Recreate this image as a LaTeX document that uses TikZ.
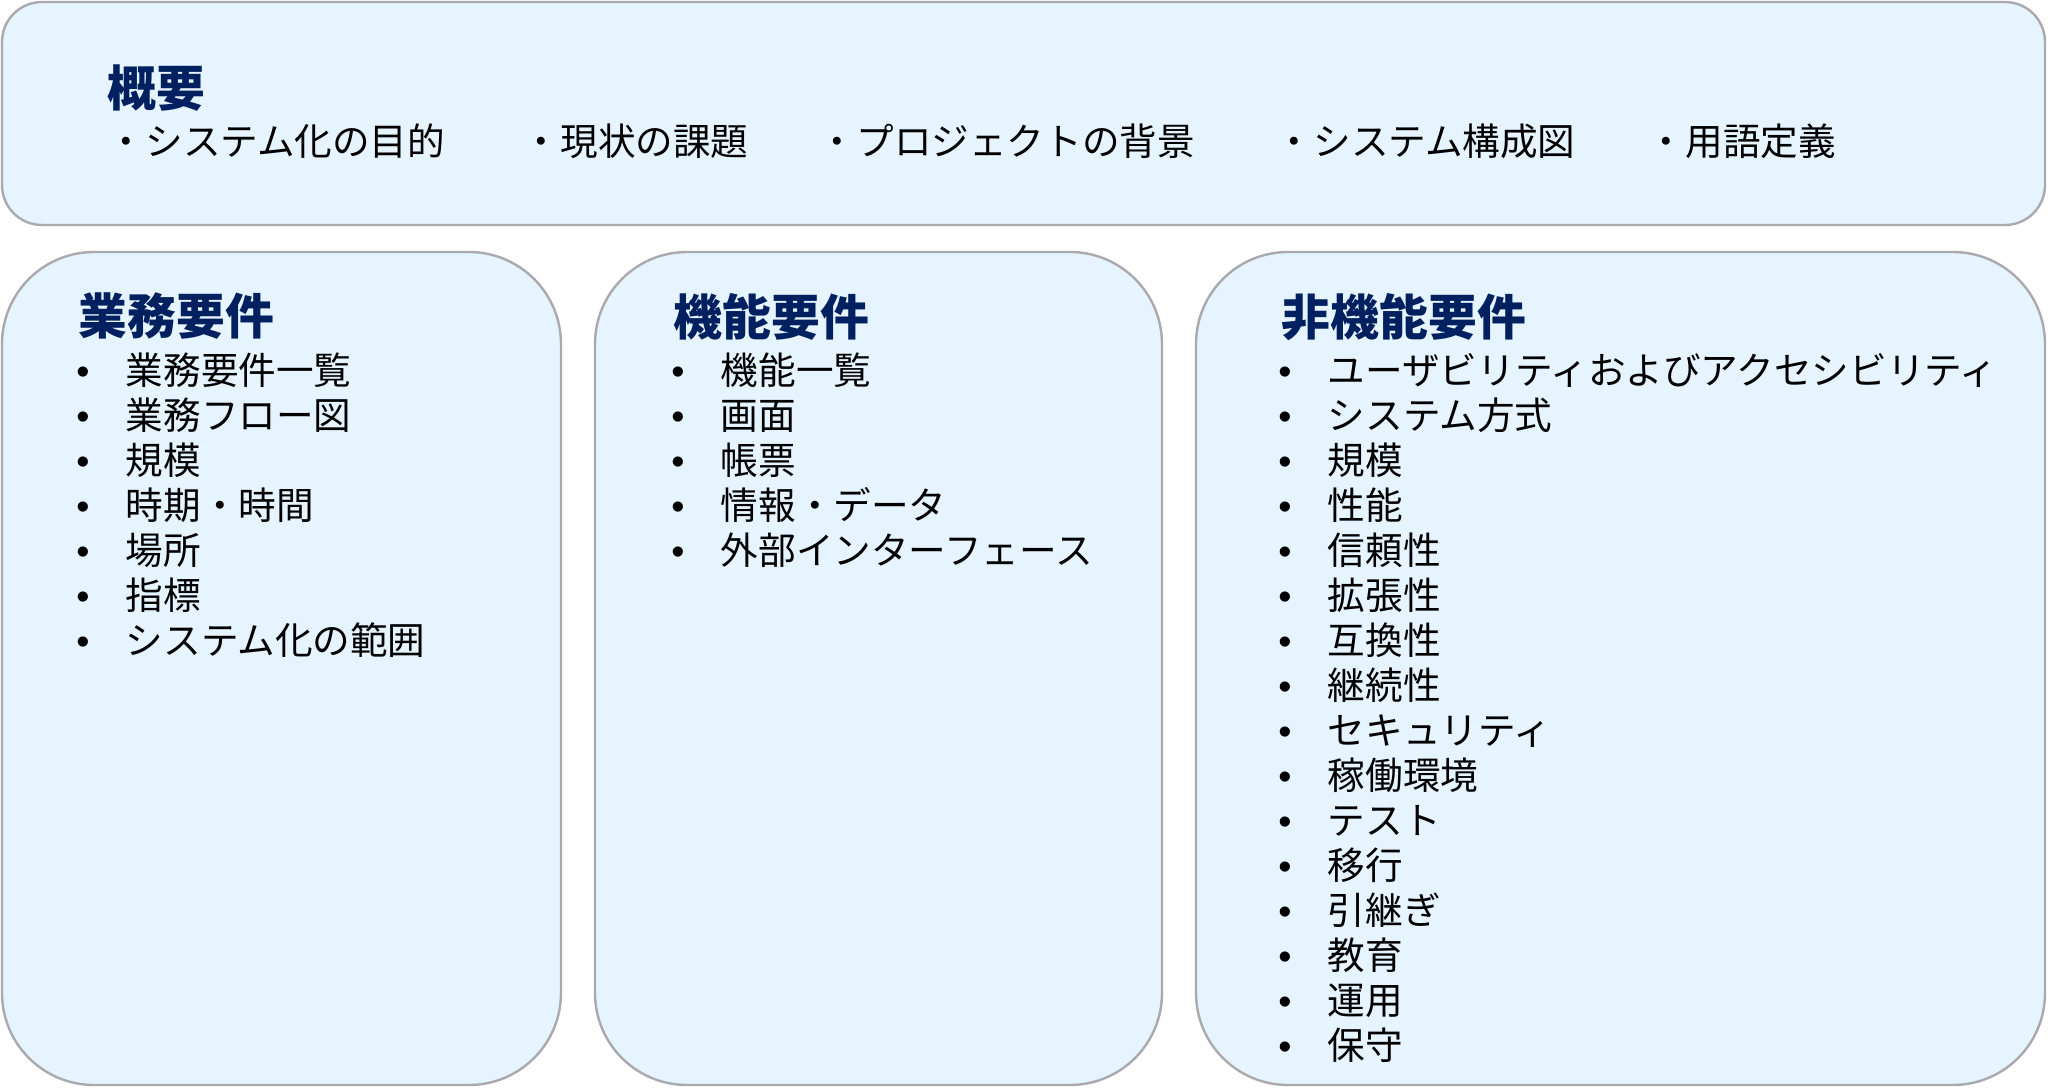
\documentclass[tikz,border=0pt]{standalone}
\usepackage{fontspec}
\setmainfont{Noto Sans CJK JP}
\newfontfamily\bulletfont{Liberation Sans}
\usetikzlibrary{positioning}
\definecolor{panelfill}{RGB}{230,244,255}
\definecolor{panelline}{RGB}{170,170,174}
\definecolor{titleblue}{RGB}{0,32,96}
\newcommand{\bul}{\makebox[12.4pt][l]{{\bulletfont •}}}
\tikzset{auto, inner sep=0pt, font=\fontsize{9.4}{11.25}\selectfont}
\tikzstyle{panel} = [draw=panelline, fill=panelfill, line width=0.6pt]
\tikzstyle{heading} = [text=titleblue, font=\fontsize{12.2}{14}\selectfont\bfseries, anchor=west]
\tikzstyle{topic} = [anchor=west]
\tikzstyle{itemlist} = [align=left, anchor=base west]

\begin{document}
\begin{tikzpicture}[x=0.25pt, y=-0.25pt]
    \useasboundingbox (0,0) rectangle (2048,1092);
    \draw [panel, rounded corners=10pt] (2,2) rectangle (2045,225);
    \draw [panel, rounded corners=23pt] (2,252) rectangle (561,1085);
    \draw [panel, rounded corners=23pt] (595,252) rectangle (1162,1085);
    \draw [panel, rounded corners=23pt] (1196,252) rectangle (2045,1085);

    \node [heading] (gaiyo) at (107,88) {概要};
    \node [topic] (mokuteki) at (107,141) {・システム化の目的};
    \node [topic] (kadai) at (522,141) {・現状の課題};
    \node [topic] (haikei) at (818,141) {・プロジェクトの背景};
    \node [topic] (kosei) at (1275,141) {・システム構成図};
    \node [topic] (yogo) at (1647,141) {・用語定義};

    \node [heading] (gyomu) at (78,316) {業務要件};
    \node [itemlist] (gyomu_list) at (75.5,654) {\bul 業務要件一覧\\ \bul 業務フロー図\\ \bul 規模\\ \bul 時期・時間\\ \bul 場所\\ \bul 指標\\ \bul システム化の範囲};

    \node [heading] (kino) at (673,317) {機能要件};
    \node [itemlist] (kino_list) at (670.5,564) {\bul 機能一覧\\ \bul 画面\\ \bul 帳票\\ \bul 情報・データ\\ \bul 外部インターフェース};

    \node [heading] (hikino) at (1281,317) {非機能要件};
    \node [itemlist] (hikino_list) at (1277.5,1059) {\bul ユーザビリティおよびアクセシビリティ\\ \bul システム方式\\ \bul 規模\\ \bul 性能\\ \bul 信頼性\\ \bul 拡張性\\ \bul 互換性\\ \bul 継続性\\ \bul セキュリティ\\ \bul 稼働環境\\ \bul テスト\\ \bul 移行\\ \bul 引継ぎ\\ \bul 教育\\ \bul 運用\\ \bul 保守};
\end{tikzpicture}
\end{document}
